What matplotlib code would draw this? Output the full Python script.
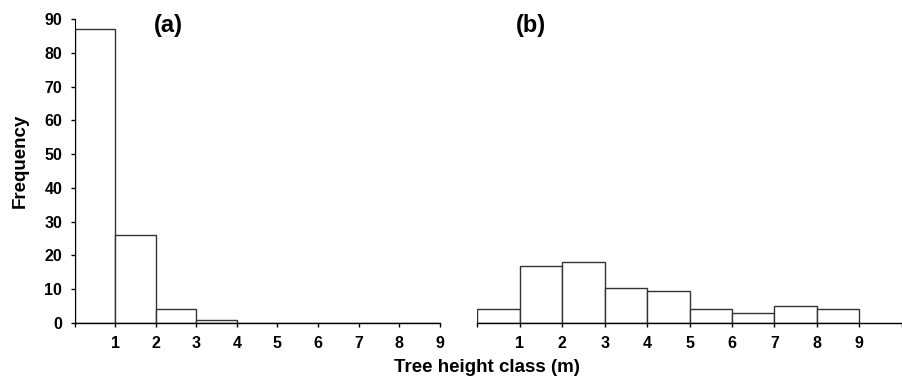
import matplotlib.pyplot as plt

plt.rcParams['font.family'] = ['Liberation Sans', 'DejaVu Sans']
plt.rcParams['font.weight'] = 'bold'

# height classes (m): bins start at 0,1,...,8
classes = [0, 1, 2, 3, 4, 5, 6, 7, 8]
freq_a = [87, 26, 4, 1, 0, 0, 0, 0, 0]
freq_b = [4, 17, 18, 10.5, 9.5, 4, 3, 5, 4]
tick_labels = ['1', '2', '3', '4', '5', '6', '7', '8', '9']

fig = plt.figure(figsize=(9.03, 3.8), dpi=100)
ax_a = fig.add_axes([0.0827, 0.15, 0.4042, 0.80])
ax_b = fig.add_axes([0.5286, 0.15, 0.4700, 0.80])

for ax, freq, xmax in [(ax_a, freq_a, 9), (ax_b, freq_b, 10)]:
    ax.bar(classes, freq, width=1.0, align='edge', color='white',
           edgecolor='#333333', linewidth=1.0)
    ax.set_xlim(0, xmax)
    ax.set_ylim(0, 90)
    for s in ['top', 'right']:
        ax.spines[s].set_visible(False)
    ax.spines['bottom'].set_linewidth(1.0)
    ax.set_xticks(range(0, xmax + 1))
    labels = [''] + tick_labels + [''] * (xmax - 9)
    ax.set_xticklabels(labels, fontsize=11.5, fontweight='bold')
    ax.tick_params(axis='x', length=3, width=1, pad=6)

ax_a.set_yticks(range(0, 91, 10))
ax_a.tick_params(axis='y', length=3, width=1, labelsize=11.5, pad=6)

ax_b.spines['left'].set_visible(False)
ax_b.set_yticks([])

fig.text(0.022, 0.576, 'Frequency', fontsize=13.5, fontweight='bold',
         rotation=90, ha='center', va='center')
fig.text(0.187, 0.934, '(a)', fontsize=17, fontweight='bold', ha='center', va='center')
fig.text(0.588, 0.934, '(b)', fontsize=17, fontweight='bold', ha='center', va='center')
fig.text(0.539, 0.032, 'Tree height class (m)', fontsize=13.5, fontweight='bold',
         ha='center', va='center')

fig.savefig('out.png', dpi=100)
